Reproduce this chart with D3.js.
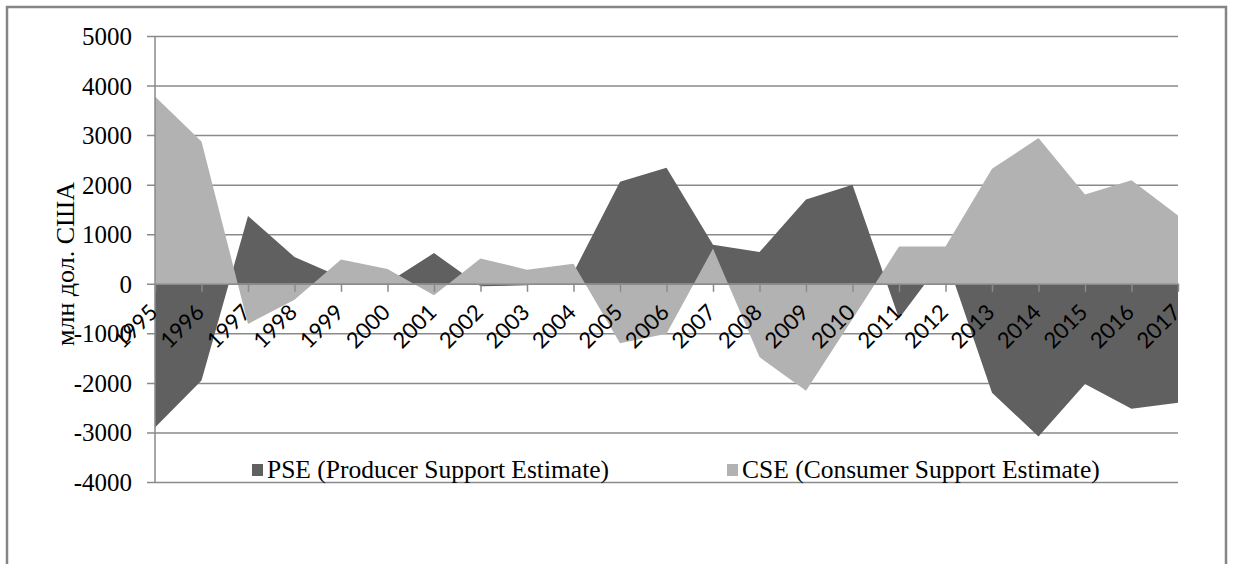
<!DOCTYPE html>
<html>
<head>
<meta charset="utf-8">
<script src="https://cdn.jsdelivr.net/npm/d3@7"></script>
<style>
  body { margin: 0; background: #fff; }
  svg { display: block; }
</style>
</head>
<body>
<div id="chart"></div>
<script>
var years = ["1995","1996","1997","1998","1999","2000","2001","2002","2003","2004","2005",
  "2006","2007","2008","2009","2010","2011","2012","2013","2014","2015","2016","2017"];
var pse = [-2900, -1950, 1370, 540, 130, 20, 620, -50, -30, 230, 2060,
  2340, 790, 640, 1700, 2000, -700, 550, -2200, -3080, -2020, -2520, -2400];
var cse = [3780, 2870, -810, -320, 490, 300, -230, 510, 285, 405, -1200,
  -1010, 710, -1480, -2160, -710, 750, 750, 2320, 2940, 1800, 2090, 1380];
var yTicks = [-4000, -3000, -2000, -1000, 0, 1000, 2000, 3000, 4000, 5000];
var seriesNames = ["PSE (Producer Support Estimate)", "CSE (Consumer Support Estimate)"];
var yTitle = "млн дол. США";

var width = 1233, height = 564;
var margin = {top: 36, right: 55, bottom: 82, left: 155};
var chartW = width - margin.left - margin.right,
  chartH = height - margin.top - margin.bottom;
var gridColor = "#8a8a8a", darkFill = "#606060", lightFill = "#b2b2b2";
var serif = "'Liberation Serif', 'Times New Roman', serif";

var svg = d3.select("#chart").append("svg")
  .attr("width", width)
  .attr("height", height);

// outer frame (runs off the bottom of the picture)
svg.append("rect")
  .attr("x", 7).attr("y", 7)
  .attr("width", 1219).attr("height", 620)
  .attr("fill", "none")
  .attr("stroke", "#858585")
  .attr("stroke-width", 2.5);

var x = d3.scalePoint().domain(years).range([0, chartW]);
var y = d3.scaleLinear().domain([-4000, 5000]).range([chartH, 0]);

var g = svg.append("g")
  .attr("transform", "translate(" + margin.left + "," + margin.top + ")");

// gridlines + y labels
var yAxis = d3.axisLeft(y)
  .tickValues(yTicks)
  .tickSize(-(chartW + 8))
  .tickPadding(15)
  .tickFormat(function(d) { return String(d); });
var yg = g.append("g")
  .attr("transform", "translate(-8,0)")
  .attr("font-family", serif)
  .call(yAxis);
yg.select(".domain").remove();
yg.selectAll(".tick line").attr("stroke", gridColor).attr("stroke-width", 1.5);
yg.selectAll(".tick text")
  .attr("fill", "#000")
  .attr("dy", "0.34em")
  .style("font-family", serif)
  .style("font-size", "25px");

// areas: PSE first, CSE drawn over it
var area = function(vals) {
  return d3.area()
    .x(function(d, i) { return x(years[i]); })
    .y0(y(0))
    .y1(function(d) { return y(d); })(vals);
};
g.append("path").attr("d", area(pse)).attr("fill", darkFill);
g.append("path").attr("d", area(cse)).attr("fill", lightFill);

// x axis at zero
var xAxis = d3.axisBottom(x).tickSize(8).tickSizeOuter(0).tickFormat("");
var xg = g.append("g")
  .attr("transform", "translate(0," + y(0) + ")")
  .call(xAxis);
xg.select(".domain").attr("stroke", gridColor).attr("stroke-width", 1.5);
xg.selectAll(".tick line").attr("stroke", gridColor).attr("stroke-width", 1.5);

// y axis line
g.append("line")
  .attr("x1", 0).attr("x2", 0)
  .attr("y1", 0).attr("y2", chartH)
  .attr("stroke", gridColor).attr("stroke-width", 1.5);

// rotated year labels
g.append("g").selectAll("text")
  .data(years)
  .enter().append("text")
  .attr("transform", function(d) {
    return "translate(" + (x(d) + 4) + "," + (y(0) + 30) + ") rotate(-45)";
  })
  .attr("text-anchor", "end")
  .style("font-family", "Lato, 'Open Sans', sans-serif")
  .style("font-size", "22px")
  .attr("fill", "#000")
  .text(function(d) { return d; });

// y title
svg.append("text")
  .attr("transform", "translate(74,264) rotate(-90)")
  .attr("text-anchor", "middle")
  .style("font-family", serif)
  .style("font-size", "26px")
  .text(yTitle);

// legend
var legendX = [252, 727], fills = [darkFill, lightFill];
var legend = svg.append("g").selectAll("g")
  .data(seriesNames)
  .enter().append("g")
  .attr("transform", function(d, i) { return "translate(" + legendX[i] + ",478)"; });
legend.append("rect")
  .attr("x", 0).attr("y", -14)
  .attr("width", 11).attr("height", 12)
  .attr("fill", function(d, i) { return fills[i]; });
legend.append("text")
  .attr("x", 15)
  .style("font-family", serif)
  .style("font-size", "25.5px")
  .text(function(d) { return d; });
</script>
</body>
</html>
